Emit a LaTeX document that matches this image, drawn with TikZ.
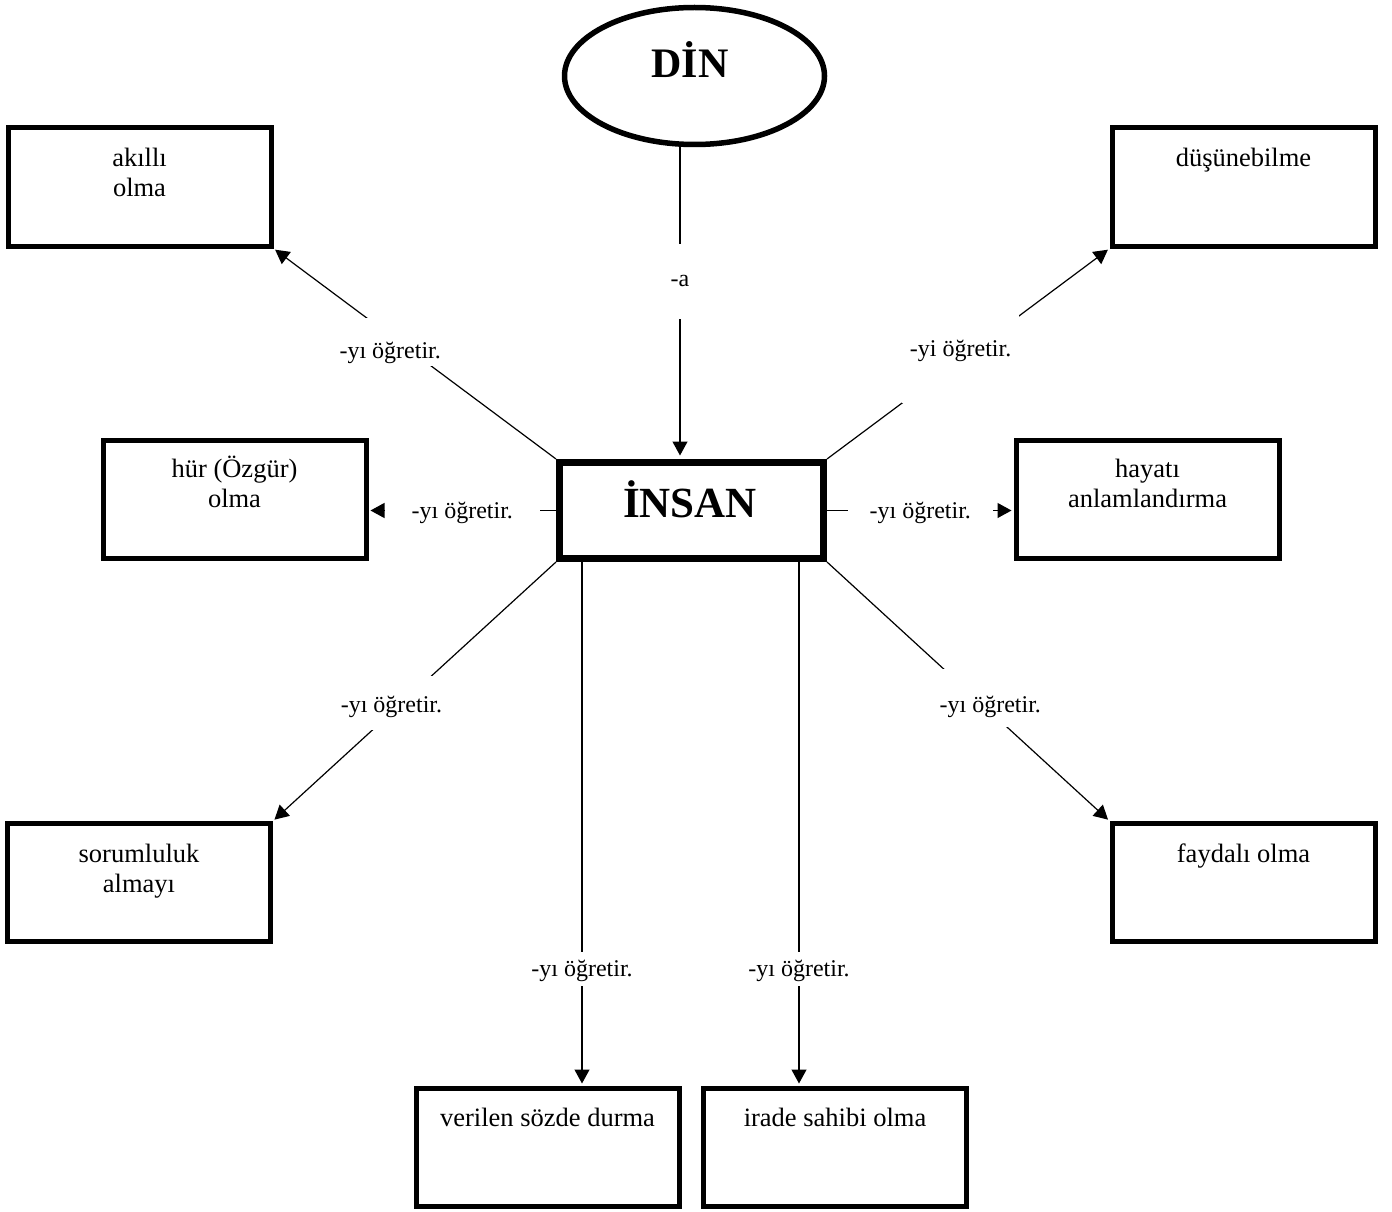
\documentclass[tikz,border=0pt]{standalone}
\usepackage{fontspec}
\setmainfont{Liberation Serif}
\usetikzlibrary{shapes.geometric, arrows.meta}

\tikzset{
  kutu/.style={draw, rectangle, line width=5pt, minimum width=263pt, minimum height=118pt, inner sep=0pt},
  yazi/.style={font=\fontsize{26.5}{30}\selectfont, align=center, anchor=base, inner sep=0pt},
  etiket/.style={font=\fontsize{24}{30}\selectfont, fill=white, inner xsep=2pt, inner ysep=4pt},
  ok/.style={line width=1.2pt, -{Triangle[length=14pt, width=15pt]}, shorten >=2pt},
}

\begin{document}
\begin{tikzpicture}[x=1pt, y=-1pt]
    \useasboundingbox (0,0) rectangle (1392,1212);

    % Ana kavramlar
    \node[draw, ellipse, line width=5.5pt, minimum width=260pt, minimum height=137pt, inner sep=0pt] (din) at (694.5,76) {};
    \node[font=\fontsize{42}{48}\selectfont\bfseries, anchor=base] (dinYazi) at (690,78) {DİN};
    \node[draw, rectangle, line width=7pt, minimum width=264pt, minimum height=96pt, inner sep=0pt] (insan) at (691.5,510.5) {};
    \node[font=\fontsize{43}{50}\selectfont\bfseries, anchor=base] (insanYazi) at (690,517) {İNSAN};

    % Kutular
    \node[kutu] (akilli) at (139.5,187) {};
    \node[kutu] (dusunme) at (1243.5,187) {};
    \node[kutu] (hur) at (234.5,499) {};
    \node[kutu] (hayat) at (1147.5,499) {};
    \node[kutu] (sorum) at (139,882.5) {};
    \node[kutu] (fayda) at (1243.5,882.5) {};
    \node[kutu] (soz) at (547.5,1147) {};
    \node[kutu] (irade) at (835,1147) {};

    % Kutu yazilari (iki satirlilarda base son satirda)
    \node[yazi] (akilliYazi) at ([yshift=-71pt]akilli.north) {akıllı\\olma};
    \node[yazi] (dusunmeYazi) at ([yshift=-41pt]dusunme.north) {düşünebilme};
    \node[yazi] (hurYazi) at ([yshift=-70pt]hur.north) {hür (Özgür)\\olma};
    \node[yazi] (hayatYazi) at ([yshift=-70pt]hayat.north) {hayatı\\anlamlandırma};
    \node[yazi] (sorumYazi) at ([yshift=-71pt]sorum.north) {sorumluluk\\almayı};
    \node[yazi] (faydaYazi) at ([yshift=-41pt]fayda.north) {faydalı olma};
    \node[yazi] (sozYazi) at ([yshift=-41pt]soz.north) {verilen sözde durma};
    \node[yazi] (iradeYazi) at ([yshift=-41pt]irade.north) {irade sahibi olma};

    % Baglantilar
    \draw[ok, shorten >=3.5pt] ([xshift=-14.5pt]din.south) -- node[etiket, pos=.43, inner ysep=32pt] (etA) {-a} ([xshift=-11.5pt]insan.north);
    \draw[ok] (insan.north west) -- node[etiket, pos=.555, text height=37pt, text depth=5pt, inner ysep=3pt] (et1) {-yı öğretir.\hspace*{18pt}} (akilli.south east);
    \draw[ok] (insan.north east) -- node[etiket, pos=.473, inner xsep=8pt, text height=17pt, text depth=23pt, inner ysep=24pt] (et2) {-yi öğretir.} (dusunme.south west);
    \draw[ok] (insan.west) -- node[etiket, pos=.5, inner xsep=27pt, yshift=-2pt] (et3) {-yı öğretir.} (hur.east |- insan.west);
    \draw[ok] (insan.east) -- node[etiket, pos=.5, inner xsep=22pt, yshift=-2pt] (et4) {-yı öğretir.} (hayat.west |- insan.east);
    \draw[ok] (insan.south west) -- node[etiket, pos=.546, text height=23pt, text depth=5pt, inner ysep=13pt] (et5) {-yı öğretir.\hspace*{20pt}} (sorum.north east);
    \draw[ok] (insan.south east) -- node[etiket, pos=.525, text height=35pt, text depth=5pt, inner ysep=9pt] (et6) {\hspace*{30pt}-yı öğretir.} (fayda.north west);
    \draw[ok] ([xshift=-109.5pt]insan.south) -- node[etiket, pos=.777, text height=21pt, text depth=5pt] (et7) {-yı öğretir.} ([xshift=34.5pt]soz.north);
    \draw[ok] ([xshift=107.5pt]insan.south) -- node[etiket, pos=.777, text height=21pt, text depth=5pt] (et8) {-yı öğretir.} ([xshift=-36pt]irade.north);
\end{tikzpicture}
\end{document}
